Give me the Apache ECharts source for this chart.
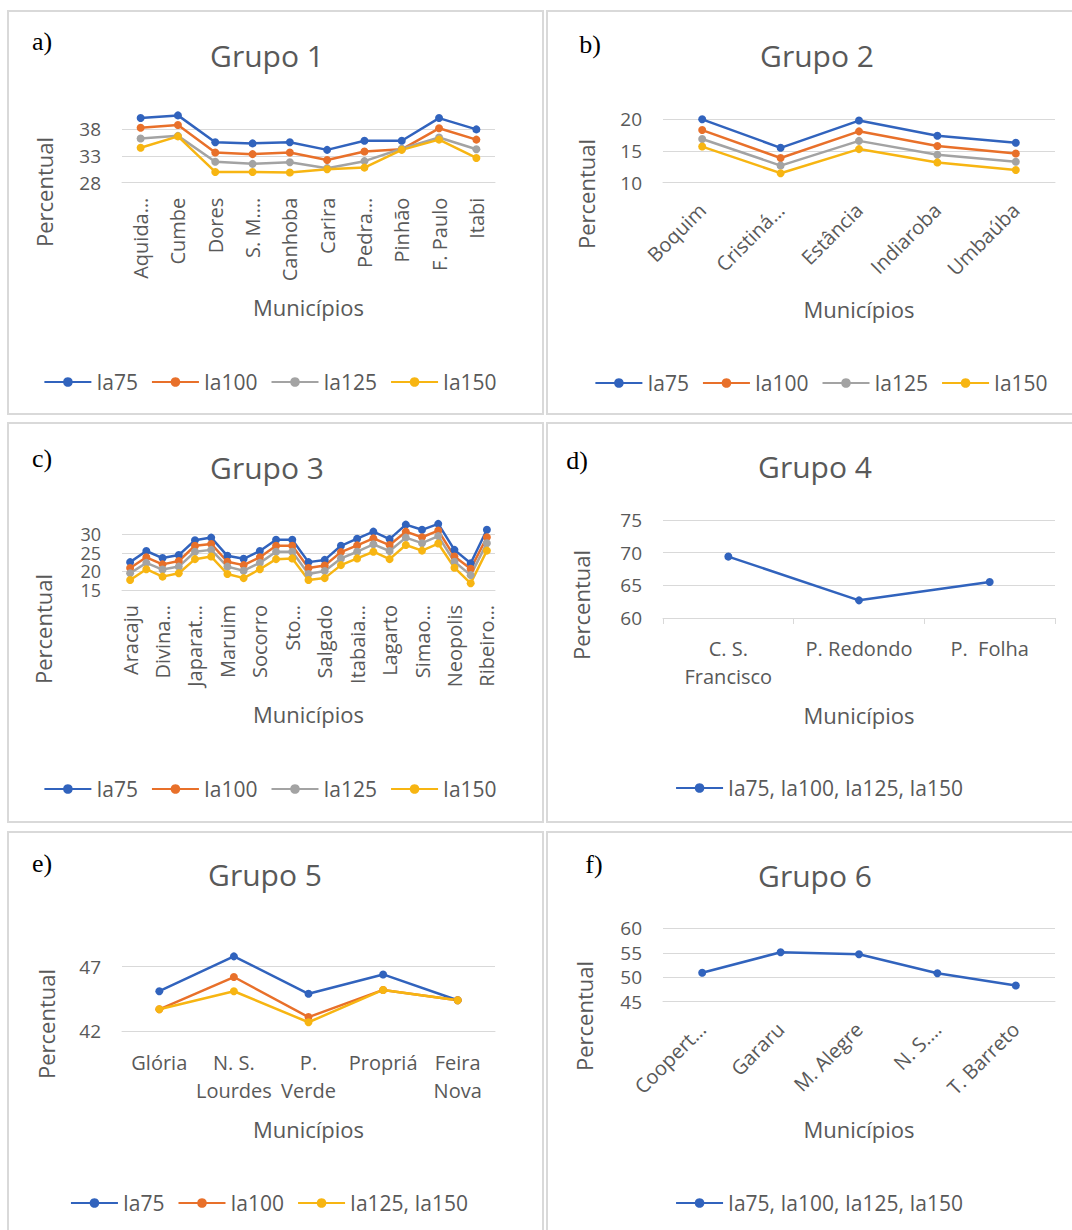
<!DOCTYPE html>
<html><head><meta charset="utf-8">
<script src="https://cdn.jsdelivr.net/npm/echarts@6/dist/echarts.min.js"></script>
<style>
html,body{margin:0;padding:0;background:#fff;width:1072px;height:1230px;overflow:hidden;position:relative}
.box{position:absolute;border:2px solid #d9d9d9;box-sizing:border-box}
.chart{position:absolute}
</style></head><body>
<div class="box" style="left:7px;top:10px;width:537px;height:405px"></div>
<div class="box" style="left:546px;top:10px;width:540px;height:405px"></div>
<div class="box" style="left:7px;top:422px;width:537px;height:401px"></div>
<div class="box" style="left:546px;top:422px;width:540px;height:401px"></div>
<div class="box" style="left:7px;top:831px;width:537px;height:420px"></div>
<div class="box" style="left:546px;top:831px;width:540px;height:420px"></div>
<div id="cA" class="chart" style="left:8px;top:10px;width:524px;height:405px"></div>
<div id="cB" class="chart" style="left:546px;top:10px;width:550px;height:405px"></div>
<div id="cC" class="chart" style="left:8px;top:422px;width:524px;height:401px"></div>
<div id="cD" class="chart" style="left:544px;top:422px;width:550px;height:401px"></div>
<div id="cE" class="chart" style="left:7px;top:831px;width:524px;height:399px"></div>
<div id="cF" class="chart" style="left:544px;top:831px;width:550px;height:399px"></div>
<script>
// ---------- DATA ----------
const g1Cats = ['Aquida…','Cumbe','Dores','S. M.…','Canhoba','Carira','Pedra…','Pinhão','F. Paulo','Itabi'];
const g1Ia75  = [40.0, 40.5, 35.5, 35.3, 35.5, 34.1, 35.8, 35.8, 40.0, 37.9];
const g1Ia100 = [38.2, 38.7, 33.6, 33.3, 33.6, 32.2, 33.8, 34.2, 38.1, 36.0];
const g1Ia125 = [36.2, 36.7, 31.9, 31.5, 31.8, 30.7, 32.0, 34.3, 36.4, 34.2];
const g1Ia150 = [34.5, 36.6, 30.0, 30.0, 29.9, 30.5, 30.8, 34.1, 36.0, 32.6];
const g1Axis = [28, 41.5, 5];

const g2Cats = ['Boquim','Cristiná…','Estância','Indiaroba','Umbaúba'];
const g2Ia75  = [20.0, 15.5, 19.8, 17.4, 16.3];
const g2Ia100 = [18.3, 13.9, 18.1, 15.8, 14.6];
const g2Ia125 = [16.9, 12.7, 16.6, 14.4, 13.3];
const g2Ia150 = [15.7, 11.5, 15.3, 13.2, 12.0];
const g2Axis = [10, 20, 5];

const g3Cats = ['Aracaju','Barra…','Divina…','Itaporanga…','Japarat…','Laranjeiras','Maruim','Riachuelo','Socorro','S. Cristóvão','Sto…','Rosário…','Salgado','Areia…','Itabaia…','Malhador','Lagarto','Macambira','Simao…','S. Domingos','Neopolis','Ilha…','Ribeiro…'];
const g3Ia75  = [22.5, 25.5, 23.6, 24.4, 28.4, 29.1, 24.2, 23.4, 25.5, 28.5, 28.5, 22.5, 23.1, 26.9, 28.8, 30.7, 28.7, 32.6, 31.2, 32.8, 25.8, 22.2, 31.2];
const g3Ia100 = [20.9, 23.8, 21.9, 22.8, 26.9, 27.4, 22.6, 21.7, 23.8, 26.9, 26.9, 20.9, 21.6, 25.2, 27.0, 28.9, 27.1, 30.7, 29.2, 31.0, 24.0, 20.7, 29.2];
const g3Ia125 = [19.5, 22.3, 20.5, 21.3, 25.3, 25.8, 21.3, 20.2, 22.3, 25.3, 25.3, 19.3, 20.1, 23.5, 25.3, 27.3, 25.5, 29.1, 27.6, 29.5, 22.6, 19.0, 27.6];
const g3Ia150 = [17.7, 20.6, 18.6, 19.5, 23.3, 24.0, 19.3, 18.2, 20.6, 23.3, 23.5, 17.7, 18.2, 21.7, 23.5, 25.3, 23.3, 27.1, 25.6, 27.5, 21.0, 16.8, 25.6];
const g3Axis = [15, 34, 5];

const g4Cats = ['C. S.\nFrancisco','P. Redondo','P.  Folha'];
const g4All  = [69.4, 62.7, 65.5];
const g4Axis = [60, 75, 5];

const g5Cats = ['Glória','N. S.\nLourdes','P.\nVerde','Propriá','Feira\nNova'];
const g5Ia75     = [45.1, 47.8, 44.9, 46.4, 44.4];
const g5Ia100    = [43.7, 46.2, 43.1, 45.2, 44.4];
const g5Ia125150 = [43.7, 45.1, 42.7, 45.2, 44.4];
const g5Axis = [42, 48.5, 5];

const g6Cats = ['Coopert…','Gararu','M. Alegre','N. S.…','T. Barreto'];
const g6All  = [50.9, 55.1, 54.7, 50.8, 48.3];
const g6Axis = [45, 60, 5];

// ---------- STYLE ----------
const FONT = "'Open Sans', sans-serif";
const TXT = '#595959';
const GRIDC = '#d9d9d9';
const C_BLUE = '#3163bd', C_ORANGE = '#e8702a', C_GRAY = '#a3a3a3', C_YELLOW = '#f7b512';

function lineSeries(name, data, color) {
  return {
    type: 'line', name: name, data: data,
    symbol: 'circle', symbolSize: 8,
    lineStyle: { color: color, width: 2.5 },
    itemStyle: { color: color },
    emphasis: { disabled: true }, animation: false
  };
}

function build(id, p) {
  const el = document.getElementById(id);
  const chart = echarts.init(el, null, { renderer: 'svg' });
  const ox = p.ox, oy = p.oy;
  const hideMax = p.axis[1] % p.axis[2] !== p.axis[0] % p.axis[2];
  const txt = (t, x, y, o) => ({
    type: 'text', x: x - ox, y: y - oy,
    style: Object.assign({ text: t, fill: TXT, font: '22px ' + FONT, align: 'center', verticalAlign: 'middle' }, o || {})
  });
  const yName = txt('Percentual', p.yName[0], p.yName[1]);
  yName.rotation = Math.PI / 2;
  const graphics = [
    txt(p.title, p.titlePos[0], p.titlePos[1], { font: '30px ' + FONT }),
    txt(p.letter, p.letterPos[0], p.letterPos[1], { font: '26px "Liberation Serif", serif', fill: '#000' }),
    yName,
    txt('Municípios', p.xName[0], p.xName[1])
  ];
  chart.setOption({
    animation: false,
    grid: {
      left: p.grid[0] - ox, width: p.grid[1] - p.grid[0],
      top: p.grid[2] - oy, height: p.grid[3] - p.grid[2],
      containLabel: false, outerBoundsMode: 'none'
    },
    legend: {
      data: p.series.map(s => s.name),
      left: 'center', top: p.legendY - oy - 12,
      itemWidth: 47, itemHeight: 12, itemGap: 13,
      textStyle: { color: TXT, fontSize: 21, fontFamily: FONT, lineHeight: 24 },
      selectedMode: false
    },
    xAxis: {
      type: 'category', data: p.cats, boundaryGap: true,
      axisLine: { show: true, lineStyle: { color: GRIDC, width: 1 } },
      axisTick: { show: !!p.ticks, length: 6, lineStyle: { color: GRIDC } },
      axisLabel: {
        color: TXT, fontSize: 20, fontFamily: FONT, rotate: p.rotate || 0,
        margin: p.margin, interval: p.interval || 0, lineHeight: 28, hideOverlap: false
      }
    },
    yAxis: {
      type: 'value', min: p.axis[0], max: p.axis[1], interval: p.axis[2],
      axisLine: { show: false }, axisTick: { show: false },
      axisLabel: { color: TXT, fontSize: p.yFont || 19, fontFamily: FONT, margin: 21, lineHeight: 10,
                   showMaxLabel: !hideMax, hideOverlap: false },
      splitLine: { show: true, lineStyle: { color: GRIDC, width: 1 }, showMaxLine: !hideMax }
    },
    graphic: graphics,
    series: p.series
  });
}

build('cA', {
  ox: 8, oy: 10, title: 'Grupo 1', titlePos: [267, 55], letter: 'a)', letterPos: [42, 41],
  yName: [44, 192], xName: [308.5, 307], legendY: 377,
  grid: [122, 495, 110, 182.7], axis: g1Axis, cats: g1Cats, rotate: 90, margin: 15,
  series: [lineSeries('Ia75', g1Ia75, C_BLUE), lineSeries('Ia100', g1Ia100, C_ORANGE),
           lineSeries('Ia125', g1Ia125, C_GRAY), lineSeries('Ia150', g1Ia150, C_YELLOW)]
});
build('cB', {
  ox: 546, oy: 10, title: 'Grupo 2', titlePos: [817, 55], letter: 'b)', letterPos: [590, 44],
  yName: [586, 194], xName: [859, 309], legendY: 378,
  grid: [663, 1055, 119.3, 182.7], axis: g2Axis, cats: g2Cats, rotate: 45, margin: 24,
  series: [lineSeries('Ia75', g2Ia75, C_BLUE), lineSeries('Ia100', g2Ia100, C_ORANGE),
           lineSeries('Ia125', g2Ia125, C_GRAY), lineSeries('Ia150', g2Ia150, C_YELLOW)]
});
build('cC', {
  ox: 8, oy: 422, title: 'Grupo 3', titlePos: [267, 467], letter: 'c)', letterPos: [42, 458],
  yName: [43, 629], xName: [308.5, 714], legendY: 784, yFont: 18,
  grid: [122, 495, 519.4, 590], axis: g3Axis, cats: g3Cats, rotate: 90, margin: 15, interval: 1,
  series: [lineSeries('Ia75', g3Ia75, C_BLUE), lineSeries('Ia100', g3Ia100, C_ORANGE),
           lineSeries('Ia125', g3Ia125, C_GRAY), lineSeries('Ia150', g3Ia150, C_YELLOW)]
});
build('cD', {
  ox: 544, oy: 422, title: 'Grupo 4', titlePos: [815, 466], letter: 'd)', letterPos: [577, 460],
  yName: [581, 605], xName: [859, 715], legendY: 783,
  grid: [663, 1055, 520, 618], axis: g4Axis, cats: g4Cats, margin: 16, ticks: true,
  series: [lineSeries('Ia75, Ia100, Ia125, Ia150', g4All, C_BLUE)]
});
build('cE', {
  ox: 7, oy: 831, title: 'Grupo 5', titlePos: [265, 874], letter: 'e)', letterPos: [42, 863],
  yName: [46, 1024], xName: [308.5, 1129], legendY: 1198,
  grid: [122, 495, 947.3, 1031.3], axis: g5Axis, cats: g5Cats, margin: 17,
  series: [lineSeries('Ia75', g5Ia75, C_BLUE), lineSeries('Ia100', g5Ia100, C_ORANGE),
           lineSeries('Ia125, Ia150', g5Ia125150, C_YELLOW)]
});
build('cF', {
  ox: 544, oy: 831, title: 'Grupo 6', titlePos: [815, 875], letter: 'f)', letterPos: [594, 864],
  yName: [584, 1016], xName: [859, 1129], legendY: 1198,
  grid: [663, 1055, 928.3, 1001.7], axis: g6Axis, cats: g6Cats, rotate: 45, margin: 24,
  series: [lineSeries('Ia75, Ia100, Ia125, Ia150', g6All, C_BLUE)]
});
</script>
</body></html>
